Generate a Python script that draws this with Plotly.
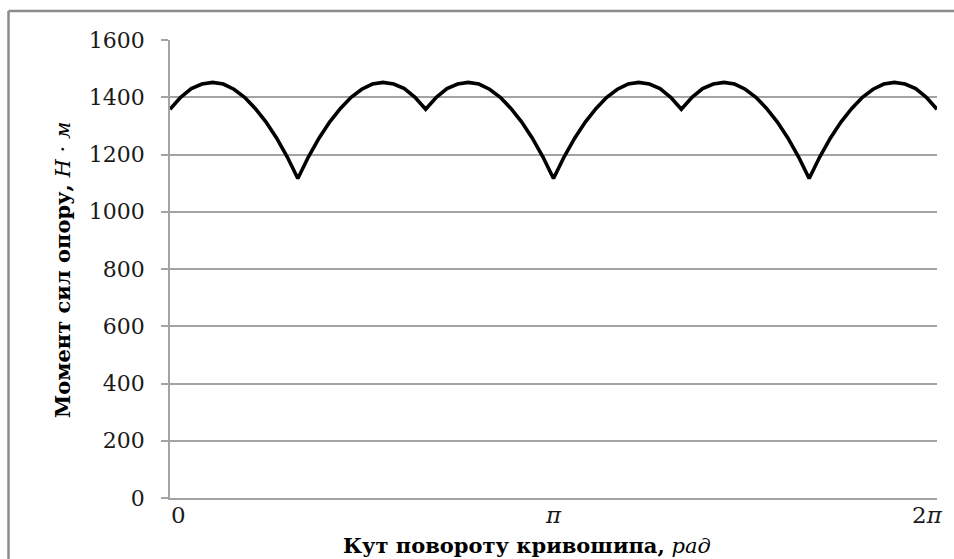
import math
import plotly.graph_objects as go

# Crank angle, degrees (5-degree steps over one revolution)
angle_deg = list(range(0, 361, 5))

# Resisting torque, N*m
torque = [
    1358, 1400, 1430, 1446, 1452, 1446, 1428, 1400, 1361, 1314, 1258, 1192, 1116,
    1192, 1258, 1314, 1361, 1400, 1428, 1446, 1452, 1446, 1430, 1400, 1358,
    1400, 1430, 1446, 1452, 1446, 1428, 1400, 1361, 1314, 1258, 1192, 1116,
    1192, 1258, 1314, 1361, 1400, 1428, 1446, 1452, 1446, 1430, 1400, 1358,
    1400, 1430, 1446, 1452, 1446, 1428, 1400, 1361, 1314, 1258, 1192, 1116,
    1192, 1258, 1314, 1361, 1400, 1428, 1446, 1452, 1446, 1430, 1400, 1358,
]

# X tick positions (radians) and their labels
x_tick_vals = [0.0, math.pi, 2 * math.pi]
x_tick_text = ["0", "<i>π</i>", "2<i>π</i>"]

y_tick_vals = list(range(0, 1601, 200))

angle_rad = [math.radians(a) for a in angle_deg]

SERIF = "DejaVu Serif, Liberation Serif, serif"
GRID = "#a3a3a3"

fig = go.Figure()
fig.add_trace(go.Scatter(
    x=angle_rad, y=torque, mode="lines",
    line=dict(color="black", width=3.6),
    showlegend=False, hoverinfo="skip",
))

W, H = 954, 559
L, R, T, B = 170, 17, 40, 61
pw, ph = W - L - R, H - T - B

fig.update_layout(
    width=W, height=H,
    margin=dict(l=L, r=R, t=T, b=B),
    paper_bgcolor="white", plot_bgcolor="white",
    font=dict(family=SERIF, color="black"),
    xaxis=dict(
        range=[0, 2 * math.pi], showgrid=False, zeroline=False,
        showline=True, linecolor=GRID, linewidth=1.5,
        showticklabels=False, ticks="",
    ),
    yaxis=dict(
        range=[0, 1600], tickvals=y_tick_vals,
        showgrid=True, gridcolor=GRID, gridwidth=1.5,
        zeroline=False, showline=True, linecolor=GRID, linewidth=1.5,
        ticks="outside", ticklen=7, tickcolor=GRID, tickwidth=1.5,
        tickfont=dict(family=SERIF, size=22, color="#1a1a1a"),
        ticklabelstandoff=12,
    ),
)

# X tick labels as annotations, nudged inward at the two ends
shifts = [8, 0, -10]
for xv, txt, sh in zip(x_tick_vals, x_tick_text, shifts):
    fig.add_annotation(
        x=xv, y=0, xref="x", yref="y", text=txt, showarrow=False,
        xanchor="center", yanchor="top", yshift=-2, xshift=sh,
        font=dict(family=SERIF, size=23, color="#1a1a1a"),
    )

# Axis titles
fig.add_annotation(
    x=(527 - L) / pw, y=(H - B - 545) / ph, xref="paper", yref="paper",
    text="<b>Кут повороту кривошипа,</b> <i>рад</i>", showarrow=False,
    xanchor="center", yanchor="middle",
    font=dict(family=SERIF, size=21, color="black"),
)
fig.add_annotation(
    x=(62 - L) / pw, y=(H - B - 270) / ph, xref="paper", yref="paper",
    text="<b>Момент сил опору,</b> <i>Н · м</i>", showarrow=False,
    textangle=-90, xanchor="center", yanchor="middle",
    font=dict(family=SERIF, size=21, color="black"),
)

# Outer frame (left and top edges)
frame_x = (8.5 - L) / pw
frame_y = (H - B - 11) / ph
fig.add_shape(type="line", xref="paper", yref="paper",
              x0=frame_x, x1=frame_x, y0=-0.3, y1=frame_y,
              line=dict(color="#8c8c8c", width=2.5))
fig.add_shape(type="line", xref="paper", yref="paper",
              x0=frame_x, x1=1.1, y0=frame_y, y1=frame_y,
              line=dict(color="#8c8c8c", width=2.5))

fig.write_html("out.html")
